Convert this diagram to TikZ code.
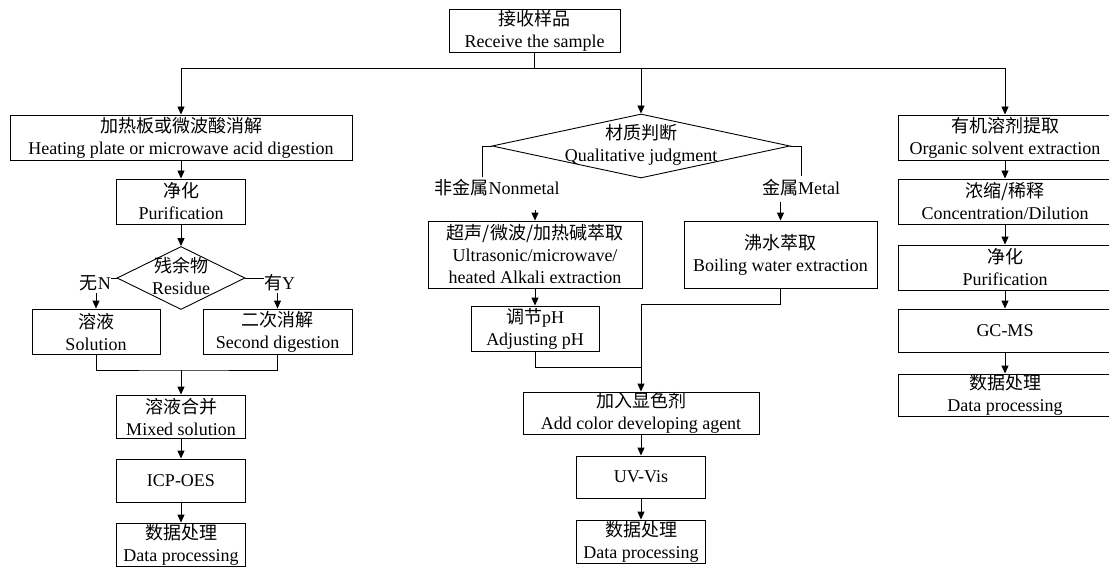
\documentclass[tikz,border=0pt]{standalone}
\usepackage{fontspec}
\setmainfont{Liberation Serif}
\newfontfamily\cjk{Noto Sans CJK SC}
\newcommand{\zh}[1]{{\cjk #1}}
\usetikzlibrary{arrows.meta,shapes.geometric}
\begin{document}
\begin{tikzpicture}[x=1pt,y=-1pt,
  every node/.style={font=\fontsize{18}{22}\selectfont},
  box/.style={draw, inner sep=0pt, align=center, line width=0.9pt},
  lbl/.style={inner sep=0pt, align=center},
  dia/.style={draw, diamond, inner sep=0pt, line width=0.9pt},
  line/.style={line width=0.9pt},
  arr/.style={line width=0.9pt, -{Triangle[length=8pt,width=7pt]}}]
\useasboundingbox (0,0) rectangle (1109,567);

% top
\node[box, minimum width=171pt, minimum height=43pt] (recv) at (534.5,30.5) {\zh{接收样品}\\Receive the sample};

% left column
\node[box, minimum width=342pt, minimum height=45pt] (heat) at (181,137.5) {\zh{加热板或微波酸消解}\\Heating plate or microwave acid digestion};
\node[box, minimum width=129pt, minimum height=45pt] (pur1) at (181,201.5) {\zh{净化}\\Purification};
\node[dia, minimum width=128pt, minimum height=63pt] (res) at (181,278) {};
\node[lbl] (restxt) at (181,276) {\zh{残余物}\\Residue};
\node[lbl, anchor=east] (lN) at (111,283) {\zh{无}N};
\node[lbl, anchor=west] (lY) at (264,283) {\zh{有}Y};
\node[box, minimum width=128pt, minimum height=45pt] (sol) at (96,331.5) {\zh{溶液}\\Solution};
\node[box, minimum width=149pt, minimum height=45pt] (sec) at (277.5,331.5) {\zh{二次消解}\\Second digestion};
\node[box, minimum width=129pt, minimum height=43pt] (mix) at (181,416.5) {\zh{溶液合并}\\Mixed solution};
\node[box, minimum width=129pt, minimum height=43pt] (icp) at (181,480.5) {ICP-OES};
\node[box, minimum width=129pt, minimum height=43pt] (dp1) at (181,544.5) {\zh{数据处理}\\Data processing};

% middle column
\node[dia, minimum width=298pt, minimum height=64pt] (judge) at (641,146) {};
\node[lbl] (judgetxt) at (641,145) {\zh{材质判断}\\Qualitative judgment};
\node[lbl] (nm) at (497,188) {\zh{非金属}Nonmetal};
\node[lbl] (mt) at (801,188) {\zh{金属}Metal};
\node[box, minimum width=214pt, minimum height=67pt] (ultra) at (535,254.5) {\zh{超声/微波/加热碱萃取}\\Ultrasonic/microwave/\\heated Alkali extraction};
\node[box, minimum width=193pt, minimum height=67pt] (boil) at (780.5,254.5) {\zh{沸水萃取}\\Boiling water extraction};
\node[box, minimum width=128pt, minimum height=45pt] (ph) at (535,328.5) {\zh{调节}pH\\Adjusting pH};
\node[box, minimum width=236pt, minimum height=42pt] (color) at (641,413) {\zh{加入显色剂}\\Add color developing agent};
\node[box, minimum width=129pt, minimum height=42pt] (uv) at (641,477) {UV-Vis};
\node[box, minimum width=129pt, minimum height=43pt] (dp2) at (641,541.5) {\zh{数据处理}\\Data processing};

% right column
\node[box, minimum width=214pt, minimum height=45pt] (org) at (1005,137.5) {\zh{有机溶剂提取}\\Organic solvent extraction};
\node[box, minimum width=214pt, minimum height=45pt] (conc) at (1005,201.5) {\zh{浓缩/稀释}\\Concentration/Dilution};
\node[box, minimum width=214pt, minimum height=45pt] (pur2) at (1005,267.5) {\zh{净化}\\Purification};
\node[box, minimum width=214pt, minimum height=43pt] (gcms) at (1005,330.5) {GC-MS};
\node[box, minimum width=214pt, minimum height=42pt] (dp3) at (1005,395) {\zh{数据处理}\\Data processing};

% coordinates
\coordinate (tL) at (181,68);
\coordinate (tR) at (1005,68);
\coordinate (nA) at (96,293);
\coordinate (yA) at (277.5,293);
\coordinate (mergeL) at (181,370);
\coordinate (nmTop) at (482,177);
\coordinate (nmBot) at (535,210);
\coordinate (mTop) at (801,176);
\coordinate (mBot) at (780.5,202);
\coordinate (mergeM) at (641,367);
\coordinate (bendB) at (641,304);

% connectors: top
\draw[line] (recv.south) -- (recv.south |- tL);
\draw[line] (tL) -- (tR);
\draw[arr] (tL) -- (heat.north);
\draw[arr] (judge.north |- tL) -- (judge.north);
\draw[arr] (tR) -- (org.north);

% left
\draw[arr] (heat.south) -- (pur1.north);
\draw[arr] (pur1.south) -- (res.north);
\draw[line] (res.west) -- (lN.east |- res.west);
\draw[line] (res.east) -- (lY.west |- res.east);
\draw[arr] (nA) -- (sol.north);
\draw[arr] (yA) -- (sec.north);
\draw[line] (sol.south) |- (mergeL) -| (sec.south);
\draw[arr] (mergeL) -- (mix.north);
\draw[arr] (mix.south) -- (icp.north);
\draw[arr] (icp.south) -- (dp1.north);

% middle
\draw[line] (judge.west) -| (nmTop);
\draw[arr] (nmBot) -- (ultra.north);
\draw[line] (judge.east) -| (mTop);
\draw[arr] (mBot) -- (boil.north);
\draw[arr] (ultra.south) -- (ph.north);
\draw[line] (ph.south) |- (mergeM);
\draw[line] (boil.south) |- (bendB);
\draw[arr] (bendB) -- (color.north);
\draw[arr] (color.south) -- (uv.north);
\draw[arr] (uv.south) -- (dp2.north);

% right
\draw[arr] (org.south) -- (conc.north);
\draw[arr] (conc.south) -- (pur2.north);
\draw[arr] (pur2.south) -- (gcms.north);
\draw[arr] (gcms.south) -- (dp3.north);
\end{tikzpicture}
\end{document}
